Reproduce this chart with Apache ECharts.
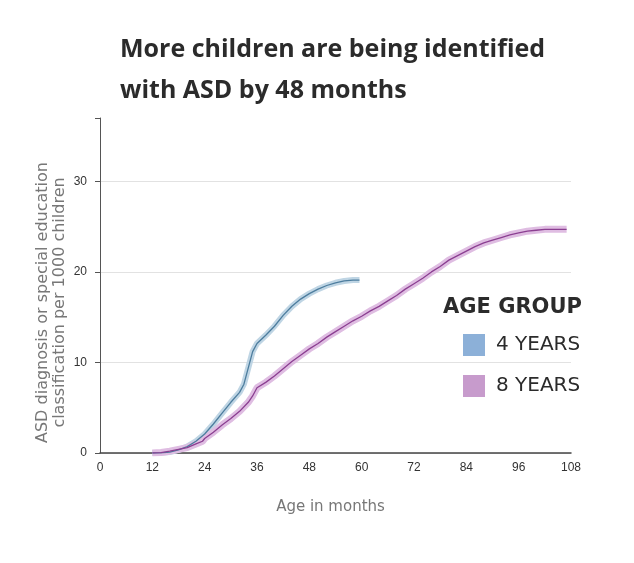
<!DOCTYPE html>
<html>
<head>
<meta charset="utf-8">
<script src="https://cdn.jsdelivr.net/npm/echarts@6/dist/echarts.min.js"></script>
<style>html,body{margin:0;padding:0;background:#fff}#c{width:634px;height:563px}</style>
</head>
<body>
<div id="c"></div>
<script>
// Data (months, rate per 1000 children)
var months4 = [12,14,16,18,20,22,24,26,28,30,32,33,34,35,36,38,40,42,44,46,48,50,52,54,56,58,59.5];
var values4 = [0,0.02,0.1,0.35,0.7,1.3,2.1,3.2,4.4,5.6,6.7,7.6,9.4,11.2,12.1,13.0,14.0,15.2,16.2,17.0,17.6,18.1,18.5,18.8,19.0,19.1,19.1];
var months8 = [12,14,16,18,20,22,23.5,24,26,28,30,32,34,35,36,38,40,42,44,46,48,50,52,54,56,58,60,62,64,66,68,70,72,74,76,78,80,82,84,86,88,90,92,94,96,98,100,102,104,106,107];
var values8 = [0,0.05,0.2,0.4,0.6,1.0,1.3,1.6,2.3,3.1,3.8,4.6,5.6,6.3,7.2,7.8,8.5,9.3,10.1,10.8,11.5,12.1,12.8,13.4,14.0,14.6,15.1,15.7,16.2,16.8,17.4,18.1,18.7,19.3,20.0,20.6,21.3,21.8,22.3,22.8,23.2,23.5,23.8,24.1,24.3,24.5,24.6,24.7,24.7,24.7,24.7];
var seriesNames = ['4 YEARS','8 YEARS'];
var xTicks = [0,12,24,36,48,60,72,84,96,108];
var yTicks = [0,10,20,30];

function pairs(xs, ys){ return xs.map(function(x,i){ return [x, ys[i]]; }); }

var chart = echarts.init(document.getElementById('c'), null, {renderer:'canvas'});
chart.setOption({
  animation:false,
  backgroundColor:'#fff',
  title:[{
    text:'More children are being identified\nwith ASD by 48 months',
    left:115, top:24,
    textStyle:{fontFamily:'Open Sans', fontWeight:'bold', fontSize:25, lineHeight:41, color:'#2b2b2b'}
  },{
    text:'AGE GROUP',
    left:438, top:292,
    textStyle:{fontFamily:'DejaVu Sans', fontWeight:'bold', fontSize:21, color:'#2b2b2b'}
  }],
  legend:{
    orient:'vertical', left:458, top:329,
    itemWidth:22, itemHeight:22, itemGap:19, icon:'rect',
    textStyle:{fontFamily:'DejaVu Sans', fontSize:20, color:'#2b2b2b', padding:[0,0,0,6]},
    data:[
      {name:seriesNames[0], itemStyle:{color:'#8cb0d8', borderWidth:0}},
      {name:seriesNames[1], itemStyle:{color:'#c79bcc', borderWidth:0}}
    ]
  },
  grid:{left:100, right:63, top:118, bottom:110},
  xAxis:{
    type:'value', min:0, max:108, interval:12,
    name:'Age in months', nameLocation:'middle', nameGap:47,
    nameTextStyle:{fontFamily:'DejaVu Sans', fontSize:15, color:'#777', padding:[0,10,0,0]},
    axisLine:{lineStyle:{color:'#444', width:1.5}},
    axisTick:{show:false},
    axisLabel:{fontFamily:'Liberation Sans', fontSize:12, color:'#333', margin:9,
      formatter:function(v){ return xTicks.indexOf(v)>=0 ? String(v) : ''; }},
    splitLine:{show:false}
  },
  yAxis:{
    type:'value', min:0, max:37, interval:10,
    name:'ASD diagnosis or special education\nclassification per 1000 children',
    nameLocation:'middle', nameGap:32, nameRotate:90, nameMoveOverlap:false,
    nameTextStyle:{fontFamily:'DejaVu Sans', fontSize:16, color:'#777', lineHeight:17, padding:[0,34,0,0]},
    axisLine:{show:true, lineStyle:{color:'#555', width:1}},
    axisTick:{show:true, length:5, lineStyle:{color:'#555'}},
    axisLabel:{fontFamily:'Liberation Sans', fontSize:12, color:'#333', margin:13,
      formatter:function(v){ return yTicks.indexOf(v)>=0 ? String(v) : ''; }},
    splitLine:{show:true, showMaxLine:false, lineStyle:{color:'#e2e2e2', width:1}}
  },
  series:[
    {name:'band4', type:'line', data:pairs(months4, values4), showSymbol:false, smooth:false,
      lineStyle:{color:'#bfd5e4', width:6}, z:2, silent:true},
    {name:'band8', type:'line', data:pairs(months8, values8), showSymbol:false, smooth:false,
      lineStyle:{color:'#dfbde2', width:7}, z:2, silent:true},
    {name:seriesNames[0], type:'line', data:pairs(months4, values4), showSymbol:false,
      itemStyle:{color:'#8cb0d8'}, lineStyle:{color:'#4d7d9e', width:1.3}, z:3},
    {name:seriesNames[1], type:'line', data:pairs(months8, values8), showSymbol:false,
      itemStyle:{color:'#c79bcc'}, lineStyle:{color:'#8b3f91', width:1.3}, z:3}
  ]
});
</script>
</body>
</html>
